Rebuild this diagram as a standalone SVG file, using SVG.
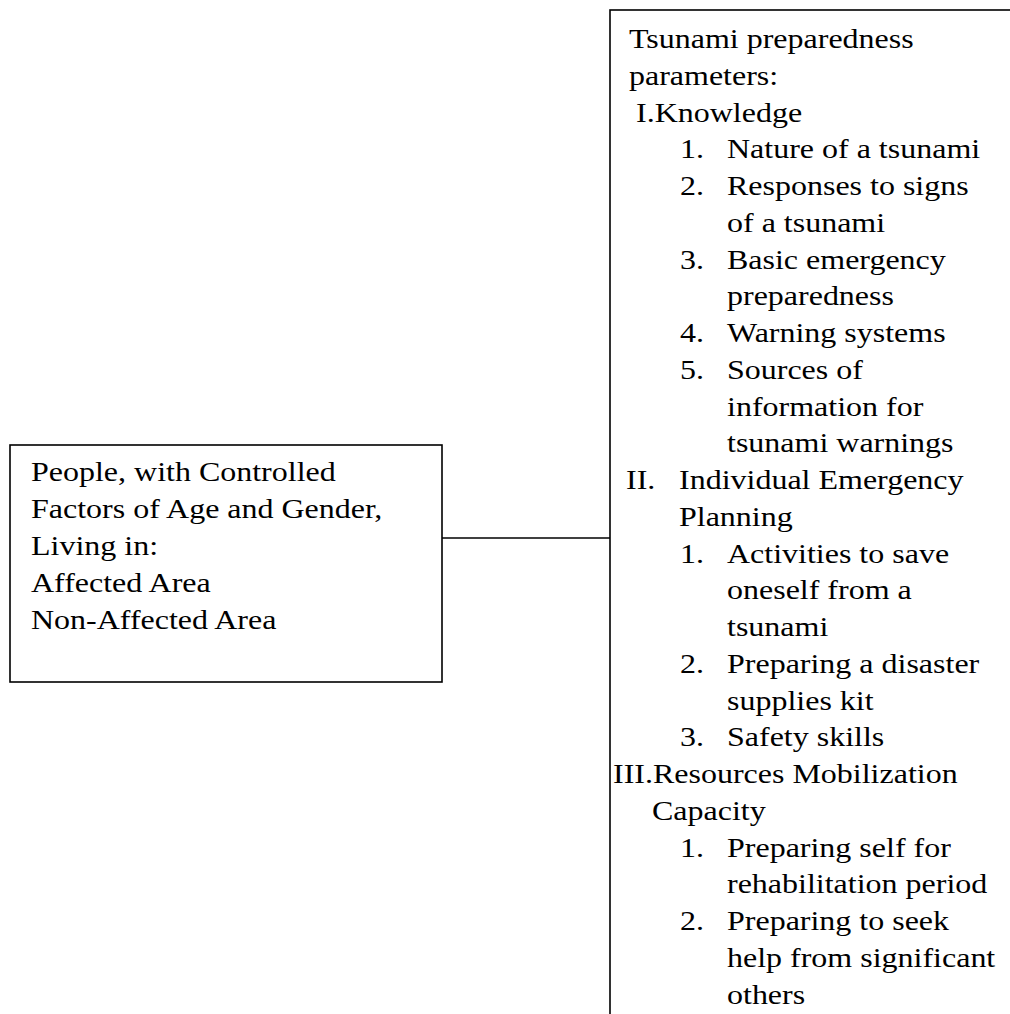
<svg xmlns="http://www.w3.org/2000/svg" width="1010" height="1014" viewBox="0 0 1010 1014">
  <style>
    .box { fill: #ffffff; stroke: #000000; stroke-width: 1.6; }
    .conn { stroke: #000000; stroke-width: 1.6; fill: none; }
    .t { font-family: 'Liberation Serif', Tinos, 'Times New Roman', Times, serif; font-size: 32px; fill: #000000; }
  </style>
  <rect x="0" y="0" width="1010" height="1014" fill="#ffffff"/>
  <g id="connectors">
    <line class="conn" x1="442" y1="538" x2="610" y2="538"/>
  </g>
  <g id="node-people" class="t" font-family="Liberation Serif, serif">
    <rect class="box" x="10" y="445" width="432" height="237"/>
    <text transform="translate(31,481) scale(1,0.864)">People, with Controlled</text>
    <text transform="translate(31,518) scale(1,0.864)">Factors of Age and Gender,</text>
    <text transform="translate(31,555) scale(1,0.864)">Living in:</text>
    <text transform="translate(31,592) scale(1,0.864)">Affected Area</text>
    <text transform="translate(31,629) scale(1,0.864)">Non-Affected Area</text>
  </g>
  <g id="node-parameters" class="t" font-family="Liberation Serif, serif">
    <rect class="box" x="610" y="10" width="420" height="1030"/>
    <text transform="translate(629,48) scale(1,0.864)">Tsunami preparedness</text>
    <text transform="translate(629,84.75) scale(1,0.864)">parameters:</text>
    <text transform="translate(636,121.5) scale(1,0.864)">I.Knowledge</text>
    <text transform="translate(680,158.25) scale(1,0.864)">1.</text>
    <text transform="translate(727,158.25) scale(1,0.864)">Nature of a tsunami</text>
    <text transform="translate(680,195) scale(1,0.864)">2.</text>
    <text transform="translate(727,195) scale(1,0.864)">Responses to signs</text>
    <text transform="translate(727,231.75) scale(1,0.864)">of a tsunami</text>
    <text transform="translate(680,268.5) scale(1,0.864)">3.</text>
    <text transform="translate(727,268.5) scale(1,0.864)">Basic emergency</text>
    <text transform="translate(727,305.25) scale(1,0.864)">preparedness</text>
    <text transform="translate(680,342) scale(1,0.864)">4.</text>
    <text transform="translate(727,342) scale(1,0.864)">Warning systems</text>
    <text transform="translate(680,378.75) scale(1,0.864)">5.</text>
    <text transform="translate(727,378.75) scale(1,0.864)">Sources of</text>
    <text transform="translate(727,415.5) scale(1,0.864)">information for</text>
    <text transform="translate(727,452.25) scale(1,0.864)">tsunami warnings</text>
    <text transform="translate(626,489) scale(1,0.864)">II.</text>
    <text transform="translate(679,489) scale(1,0.864)">Individual Emergency</text>
    <text transform="translate(679,525.75) scale(1,0.864)">Planning</text>
    <text transform="translate(680,562.5) scale(1,0.864)">1.</text>
    <text transform="translate(727,562.5) scale(1,0.864)">Activities to save</text>
    <text transform="translate(727,599.25) scale(1,0.864)">oneself from a</text>
    <text transform="translate(727,636) scale(1,0.864)">tsunami</text>
    <text transform="translate(680,672.75) scale(1,0.864)">2.</text>
    <text transform="translate(727,672.75) scale(1,0.864)">Preparing a disaster</text>
    <text transform="translate(727,709.5) scale(1,0.864)">supplies kit</text>
    <text transform="translate(680,746.25) scale(1,0.864)">3.</text>
    <text transform="translate(727,746.25) scale(1,0.864)">Safety skills</text>
    <text transform="translate(613,783) scale(1,0.864)">III.Resources Mobilization</text>
    <text transform="translate(652,819.75) scale(1,0.864)">Capacity</text>
    <text transform="translate(680,856.5) scale(1,0.864)">1.</text>
    <text transform="translate(727,856.5) scale(1,0.864)">Preparing self for</text>
    <text transform="translate(727,893.25) scale(1,0.864)">rehabilitation period</text>
    <text transform="translate(680,930) scale(1,0.864)">2.</text>
    <text transform="translate(727,930) scale(1,0.864)">Preparing to seek</text>
    <text transform="translate(727,966.75) scale(1,0.864)">help from significant</text>
    <text transform="translate(727,1003.5) scale(1,0.864)">others</text>
  </g>
</svg>
